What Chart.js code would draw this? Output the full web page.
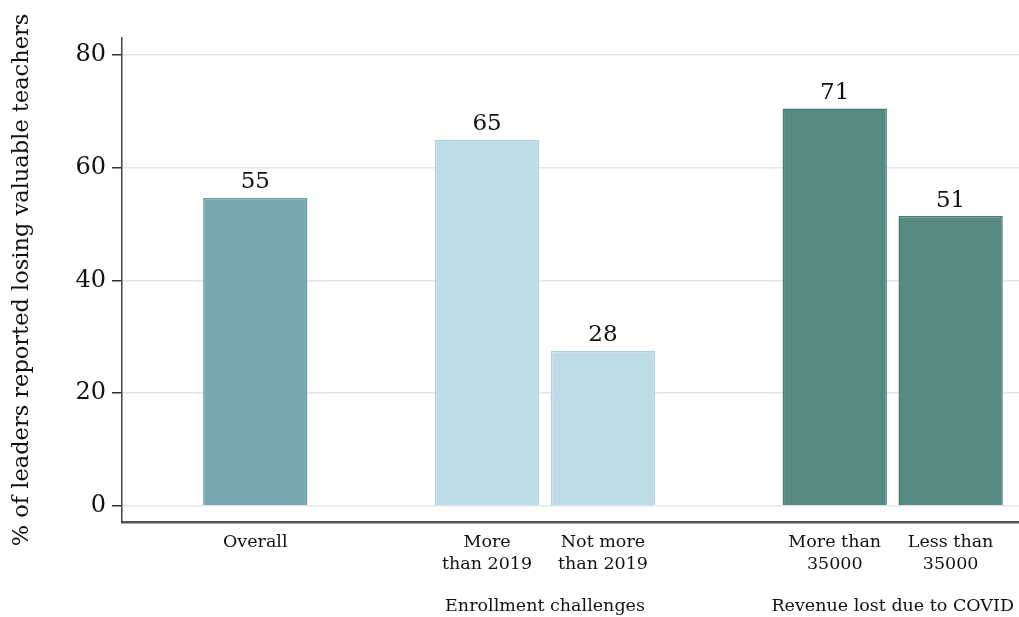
<!DOCTYPE html>
<html>
<head>
<meta charset="utf-8">
<script src="https://cdn.jsdelivr.net/npm/chart.js@4"></script>
<style>
  html, body { margin: 0; padding: 0; background: #fff; }
  #wrap { width: 1019px; height: 617px; position: relative; }
</style>
</head>
<body>
<div id="wrap"><canvas id="chart"></canvas></div>
<script>
// Bar labels (one entry per bar, lines split for the axis)
const categories = [
  ['Overall'],
  ['More', 'than 2019'],
  ['Not more', 'than 2019'],
  ['More than', '35000'],
  ['Less than', '35000']
];
// Slot on the x axis for each bar (gaps separate the groups)
const slots = [0, 2, 3, 5, 6];
// % of leaders reported losing valuable teachers
const values = [54.6, 64.9, 27.5, 70.5, 51.4];
const barColors = ['#77a7b1', '#bddce6', '#bddce6', '#568a82', '#568a82'];
const barBorders = ['#6a9ba6', '#acd2de', '#acd2de', '#477b73', '#477b73'];

// Group captions under the tick labels, with the bars they span
const groupNames = ['Enrollment challenges', 'Revenue lost due to COVID'];
const groupMembers = [[1, 2], [3, 4]];

const yTicks = [0, 20, 40, 60, 80];

const serif = "'DejaVu Serif', 'Liberation Serif', serif";

// value labels on top of each bar
const valueLabels = {
  id: 'valueLabels',
  afterDatasetsDraw(chart) {
    const ctx = chart.ctx;
    const meta = chart.getDatasetMeta(0);
    ctx.save();
    ctx.font = '23px ' + serif;
    ctx.fillStyle = '#111';
    ctx.textAlign = 'center';
    ctx.textBaseline = 'bottom';
    meta.data.forEach((bar, i) => {
      ctx.fillText(String(Math.round(values[i])), bar.x, bar.y - 4);
    });
    ctx.restore();
  }
};

// group captions below the x tick labels
const groupLabels = {
  id: 'groupLabels',
  afterDraw(chart) {
    const ctx = chart.ctx;
    const xScale = chart.scales.x;
    ctx.save();
    ctx.font = '17.5px ' + serif;
    ctx.fillStyle = '#111';
    ctx.textAlign = 'center';
    ctx.textBaseline = 'middle';
    groupNames.forEach((name, g) => {
      const xs = groupMembers[g].map(i => xScale.getPixelForValue(slots[i]));
      const mid = (Math.min(...xs) + Math.max(...xs)) / 2;
      ctx.fillText(name, mid, 606);
    });
    ctx.restore();
  }
};

new Chart(document.getElementById('chart'), {
  type: 'bar',
  data: {
    datasets: [{
      data: slots.map((s, i) => ({ x: s, y: values[i] })),
      backgroundColor: barColors,
      borderColor: barBorders,
      borderWidth: 1.5,
      categoryPercentage: 1,
      barPercentage: 0.9
    }]
  },
  options: {
    responsive: true,
    maintainAspectRatio: false,
    animation: false,
    layout: { padding: { top: 38, right: 0, bottom: 0, left: 0 } },
    plugins: {
      legend: { display: false },
      tooltip: { enabled: false }
    },
    scales: {
      x: {
        type: 'linear',
        min: -1.15,
        max: 6.59,
        offset: false,
        afterBuildTicks: (scale) => {
          scale.ticks = slots.map(v => ({ value: v }));
        },
        afterFit: (scale) => { scale.height = 95; },
        ticks: {
          autoSkip: false,
          maxRotation: 0,
          padding: 9,
          color: '#111',
          font: { family: serif, size: 17.5, lineHeight: 1.28 },
          callback: (value) => {
            const i = slots.indexOf(value);
            return i >= 0 ? categories[i] : '';
          }
        },
        grid: { offset: false, drawOnChartArea: false, drawTicks: false },
        border: { display: true, color: '#555', width: 2.5 }
      },
      y: {
        min: -2.9,
        max: 83,
        afterBuildTicks: (scale) => {
          scale.ticks = yTicks.map(v => ({ value: v }));
        },
        afterFit: (scale) => { scale.width = 122; },
        ticks: {
          color: '#111',
          padding: 6,
          font: { family: serif, size: 24 }
        },
        grid: {
          color: '#e6e6e6',
          lineWidth: 1.5,
          tickColor: '#333',
          tickLength: 10,
          tickWidth: 1.5
        },
        border: { display: true, color: '#444', width: 1.5 },
        title: {
          display: true,
          text: '% of leaders reported losing valuable teachers',
          color: '#111',
          padding: { top: 9, bottom: 0 },
          font: { family: serif, size: 22.5 }
        }
      }
    }
  },
  plugins: [valueLabels, groupLabels]
});
</script>
</body>
</html>
